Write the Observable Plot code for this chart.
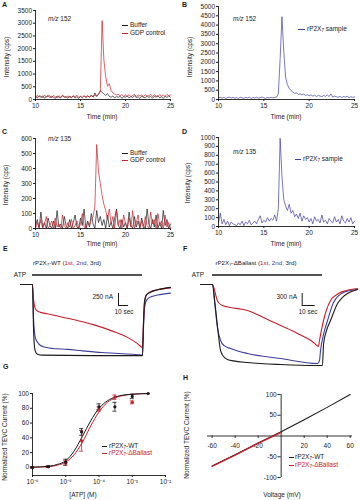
<!DOCTYPE html>
<html><head><meta charset="utf-8">
<script src="https://cdn.jsdelivr.net/npm/d3@7"></script>
<script src="https://cdn.jsdelivr.net/npm/@observablehq/plot@0.6"></script>
<style>
body{margin:0;background:#fff}
#fig{position:relative;width:360px;height:500px;overflow:hidden;background:#fff}
sub{font-size:70%;vertical-align:-0.25em;line-height:0}
</style></head><body><div id="fig"></div>
<script>
// ---------------- DATA ----------------
// chromatograms: sampled every 0.2 min from 10 to 25 min
const times = Array.from({length: 76}, (_, i) => +(10 + 0.2 * i).toFixed(1));
const timeTicks = [10, 15, 20, 25];

const aBuffer = [120,60,150,80,140,50,110,160,70,130, 90,40,140,100,60,150,80,120,50,130,
  90,140,60,110,40,120,80,150,70,130, 100,180,90,260,120,200,350,280,220,160,
  230,120,90,140,60,120,80,130,50,110, 90,140,60,120,80,150,70,110,40,130,
  90,60,140,80,120,50,130,90,150,70, 110,40,130,80,140,90];
const aGDP = [80,170,100,140,60,180,90,130,150,70, 160,110,60,150,90,170,120,70,140,100,
  60,150,110,170,80,130,60,140,100,160, 80,140,110,170,150,220,300,3100,1550,900,
  520,620,350,260,210,180,200,150,190,120, 170,130,190,110,160,200,120,180,140,170,
  110,190,130,160,200,120,180,140,110,190, 130,170,120,200,150,180];
const bSample = [90,120,70,110,60,100,130,80,110,70, 100,60,120,90,70,110,80,130,60,100,
  80,120,70,100,130,90,60,110,80,120, 90,110,130,300,2200,4450,2600,1200,800,600,
  480,400,330,350,280,300,250,290,220,260, 200,250,180,230,160,210,190,150,220,170,
  240,160,300,130,180,150,120,170,110,160, 130,180,100,150,120,140];
const cBuffer = [20,60,0,110,10,40,0,70,20,0, 50,0,120,10,30,0,80,20,0,60,
  0,40,90,10,0,70,20,130,0,50, 10,100,30,0,120,40,80,20,60,0,
  90,10,40,0,70,130,20,0,60,10, 40,0,110,20,0,80,10,50,0,70,
  20,0,130,30,0,60,10,90,0,40, 0,120,20,60,0,30];
const cGDP = [0,40,10,60,0,30,80,0,20,50, 0,70,10,30,0,90,20,0,40,10,
  60,0,20,50,0,30,100,10,0,40, 20,60,80,150,560,380,300,220,160,120,
  60,130,30,80,0,120,20,60,0,90, 30,0,70,10,120,0,40,90,10,50,
  0,80,20,0,110,30,60,0,100,20, 50,0,90,10,40,0];
const dSample = [40,150,30,80,20,60,10,50,30,20, 10,40,20,60,10,50,30,70,20,40,
  60,30,80,120,40,70,50,100,60,90, 70,130,60,200,990,560,300,230,180,250,
  150,180,110,140,90,150,60,120,80,100, 50,90,30,110,60,80,40,130,50,70,
  30,90,60,40,110,50,80,30,120,60, 40,90,50,100,30,60];
const aYTicks = [0,500,1000,1500,2000,2500,3000,3500];
const bYTicks = [0,500,1000,1500,2000,2500,3000,3500,4000,4500,5000];
const cYTicks = [0,100,200,300,400,500,600];
const dYTicks = [0,100,200,300,400,500,600,700,800,900,1000];

// TEVC traces [time (s), current (nA)]
const eRed = [[-12,0],[0,0],[1,-300],[2,-450],[4,-540],[8,-580],[15,-610],[30,-680],[45,-750],[60,-830],[80,-970],[95,-1100],[105,-1230],[110,-1310],[111,-800],[112,-400],[114,-220],[118,-150],[125,-110],[138,-70]];
const eBlue = [[-12,0],[0,0],[1,-700],[2,-1000],[3,-1120],[5,-1200],[8,-1270],[12,-1300],[20,-1330],[35,-1350],[50,-1380],[70,-1415],[90,-1440],[105,-1460],[110,-1470],[111,-900],[112,-500],[114,-330],[118,-260],[125,-220],[138,-180]];
const eBlack = [[-12,0],[0,0],[1,-900],[2,-1300],[3,-1400],[5,-1450],[10,-1470],[60,-1480],[110,-1480],[111,-800],[112,-350],[114,-210],[118,-160],[125,-110],[138,-60]];
const eATP = [0, 110];
const fRed = [[-9,0],[0,0],[2,-200],[3.5,-380],[4.6,-450],[7.7,-525],[13.8,-575],[26.9,-650],[39.2,-825],[52.3,-1025],[65.4,-1225],[77.7,-1450],[81.5,-1550],[82.3,-1400],[85.4,-900],[90.8,-400],[96.9,-225],[103,-150],[111.5,-100]];
const fBlue = [[-9,0],[0,0],[1.5,-400],[3.8,-1075],[6.2,-1400],[9,-1530],[13.8,-1600],[26.9,-1725],[52.3,-1850],[80.8,-1975],[82.3,-1900],[83.1,-1650],[85.4,-1250],[88.5,-900],[93.1,-450],[100.8,-200],[111.5,-125]];
const fBlack = [[-9,0],[0,0],[2,-500],[4,-1100],[6.2,-1650],[8.5,-1800],[12,-1880],[16.2,-1910],[26.9,-1950],[52.3,-2000],[80.8,-2025],[84.6,-2025],[85.4,-1500],[87.7,-1150],[90.8,-900],[96.2,-475],[100,-320],[103.8,-225],[111.5,-125]];
const fATP = [0, 84.6];

// dose response
const gConc = [1e-6,3e-6,1e-5,3e-5,1e-4,3e-4,1e-3,3e-3];
const gWT = [0,1,7,48,82,82,96,100];
const gWTErr = [1,1,4,4.5,4,6,3,0];
const gBal = [0,1,6,36,79,95,88];
const gBalErr = [1,1,3,14,3,3,2];
const gCurveLog = [-6,-5.5,-5.25,-5,-4.75,-4.5,-4.25,-4,-3.75,-3.5,-3.25,-3,-2.5];
const gCurveWT = [0.3,1.5,4,9,22,42,63,80,90,95.5,98,99,100];
const gCurveBal = [0.2,1,3,7,17,34,56,75,88,94.5,97.5,99,100];
const gTicks = [1e-6,1e-5,1e-4,1e-3,1e-2];
const gTickLabels = ["10\u207B\u2076","10\u207B\u2075","10\u207B\u2074","10\u207B\u00B3","10\u207B\u00B2"];
const gYTicks = [0,20,40,60,80,100];

// I-V
const hV = [-60,-40,-20,0,20,40,60];
const hWT = [-72,-45,-17,10,39,69,100];
const hBalV = [-60,-40,-20,0];
const hBal = [-73,-46,-18,9];
const hXTicks = [-60,-40,-20,20,40,60];
const hYTicks = [-100,-50,50,100];

// ---------------- DRAWING ----------------
const FONT = '"Liberation Sans", Arial, Helvetica, sans-serif';
const INK = "#1a1a1a", RED = "#c8202a", BLUE = "#3d3d9e";
const baseStyle = {fontSize: "6.5px", fontFamily: FONT, color: INK, background: "transparent", overflow: "visible"};
const fig = document.getElementById("fig");

function place(node, left, top) {
  node.style.position = "absolute"; node.style.left = left + "px"; node.style.top = top + "px";
  fig.appendChild(node);
}
function txt(html, x, y, o = {}) {
  const d = document.createElement("div");
  d.innerHTML = html;
  const a = o.anchor || "start";
  const tx = a === "start" ? "0" : a === "middle" ? "-50%" : "-100%";
  Object.assign(d.style, {position: "absolute", left: x + "px", top: y + "px", whiteSpace: "nowrap",
    lineHeight: "1", fontSize: (o.size || 6.5) + "px", color: o.color || INK,
    fontWeight: o.bold ? "bold" : "normal", fontFamily: FONT,
    transform: `translate(${tx},-50%)` + (o.rotate ? " rotate(-90deg)" : "")});
  fig.appendChild(d);
}
function sw(x, y, w, color) {
  const d = document.createElement("div");
  Object.assign(d.style, {position: "absolute", left: x + "px", top: (y - 0.5) + "px", width: w + "px", height: "0", borderTop: `1px solid ${color}`});
  fig.appendChild(d);
}

function chrom(p) {
  const svg = Plot.plot({
    width: p.w, height: p.h, marginTop: p.mt, marginBottom: p.mb, marginLeft: p.ml, marginRight: p.mr,
    style: baseStyle,
    x: {domain: [10, 25], ticks: timeTicks, tickSize: 2, tickPadding: 1.5, label: null, tickFormat: d => String(d)},
    y: {domain: [0, p.yMax], ticks: p.yTicks, tickSize: 2, tickPadding: 1.5, label: null, tickFormat: d => String(d)},
    marks: [
      ...p.series.map(s => Plot.line(s.v, {x: (d, i) => times[i], y: d => d, stroke: s.c, strokeWidth: 0.7})),
      Plot.ruleX([10], {stroke: INK, strokeWidth: 0.9}),
      Plot.ruleY([0], {stroke: INK, strokeWidth: 0.9})
    ]
  });
  place(svg, p.x, p.y);
}

chrom({x: 0, y: 0, w: 180, h: 125, mt: 10, mb: 26, ml: 35, mr: 10, yMax: 3500, yTicks: aYTicks,
  series: [{v: aBuffer, c: INK}, {v: aGDP, c: RED}]});
chrom({x: 180, y: 0, w: 180, h: 125, mt: 6, mb: 26, ml: 38, mr: 6, yMax: 5000, yTicks: bYTicks,
  series: [{v: bSample, c: BLUE}]});
chrom({x: 0, y: 125, w: 180, h: 125, mt: 13, mb: 22, ml: 35, mr: 10, yMax: 600, yTicks: cYTicks,
  series: [{v: cBuffer, c: INK}, {v: cGDP, c: RED}]});
chrom({x: 180, y: 125, w: 180, h: 125, mt: 12, mb: 24, ml: 38, mr: 6, yMax: 1000, yTicks: dYTicks,
  series: [{v: dSample, c: BLUE}]});

function trace(p) {
  const L = (data, c) => Plot.line(data, {x: d => d[0], y: d => d[1], stroke: c, strokeWidth: 1.1, curve: "monotone-x"});
  const svg = Plot.plot({
    width: 180, height: 130, margin: 0, style: baseStyle,
    x: {domain: p.xd, axis: null}, y: {domain: p.yd, axis: null},
    marks: [
      Plot.ruleY([0], {x1: p.atp[0], x2: p.atp[1], dy: -9.5, stroke: INK, strokeWidth: 1.3}),
      L(p.blue, BLUE), L(p.red, RED), L(p.black, INK),
      Plot.ruleX([p.bar.t], {y1: p.bar.i, y2: p.bar.i + p.bar.amp, stroke: INK, strokeWidth: 1}),
      Plot.ruleY([p.bar.i], {x1: p.bar.t, x2: p.bar.t + p.bar.sec, stroke: INK, strokeWidth: 1})
    ]
  });
  place(svg, p.x, p.y);
}
trace({x: 0, y: 240, xd: [-32, 148], yd: [-1789, 915], atp: eATP, red: eRed, blue: eBlue, black: eBlack,
  bar: {t: 86, i: -437, amp: 250, sec: 10}});
trace({x: 180, y: 240, xd: [-32 / 1.3, 148 / 1.3], yd: [-2150, 1100], atp: fATP, red: fRed, blue: fBlue, black: fBlack,
  bar: {t: 69, i: -525, amp: 300, sec: 10}});

// G dose-response
{
  const wi = gWT.map((_, i) => i), bi = gBal.map((_, i) => i);
  const svg = Plot.plot({
    width: 180, height: 120, marginTop: 13, marginBottom: 25, marginLeft: 32, marginRight: 15, style: baseStyle,
    x: {type: "log", domain: [1e-6, 1e-2], ticks: gTicks, tickSize: 2, tickPadding: 1.5, label: null,
        tickFormat: d => gTickLabels[gTicks.findIndex(t => Math.abs(Math.log10(t / d)) < 0.01)]},
    y: {domain: [-11, 100], ticks: gYTicks, tickSize: 2, tickPadding: 1.5, label: null, tickFormat: d => String(d)},
    marks: [
      Plot.ruleX([1e-6], {stroke: INK, strokeWidth: 0.9}),
      Plot.ruleY([-11], {stroke: INK, strokeWidth: 0.9}),
      Plot.line(gCurveLog.map((l, i) => [10 ** l, gCurveBal[i]]), {x: d => d[0], y: d => d[1], stroke: RED, strokeWidth: 1, curve: "monotone-x"}),
      Plot.line(gCurveLog.map((l, i) => [10 ** l, gCurveWT[i]]), {x: d => d[0], y: d => d[1], stroke: INK, strokeWidth: 1, curve: "monotone-x"}),
      Plot.ruleX(bi, {x: i => gConc[i], y1: i => gBal[i] - gBalErr[i], y2: i => gBal[i] + gBalErr[i], stroke: RED, strokeWidth: 0.8}),
      Plot.ruleY(bi, {y: i => gBal[i] + gBalErr[i], x1: i => gConc[i] / 1.15, x2: i => gConc[i] * 1.15, stroke: RED, strokeWidth: 0.8}),
      Plot.ruleY(bi, {y: i => gBal[i] - gBalErr[i], x1: i => gConc[i] / 1.15, x2: i => gConc[i] * 1.15, stroke: RED, strokeWidth: 0.8}),
      Plot.ruleX(wi, {x: i => gConc[i], y1: i => gWT[i] - gWTErr[i], y2: i => gWT[i] + gWTErr[i], stroke: INK, strokeWidth: 0.8}),
      Plot.ruleY(wi.filter(i => gWTErr[i] > 0), {y: i => gWT[i] + gWTErr[i], x1: i => gConc[i] / 1.15, x2: i => gConc[i] * 1.15, stroke: INK, strokeWidth: 0.8}),
      Plot.ruleY(wi.filter(i => gWTErr[i] > 0), {y: i => gWT[i] - gWTErr[i], x1: i => gConc[i] / 1.15, x2: i => gConc[i] * 1.15, stroke: INK, strokeWidth: 0.8}),
      Plot.dot(bi, {x: i => gConc[i], y: i => gBal[i], r: 1.6, fill: RED}),
      Plot.dot(wi, {x: i => gConc[i], y: i => gWT[i], r: 1.6, fill: INK})
    ]
  });
  place(svg, 0, 380);
}

// H I-V
{
  const svg = Plot.plot({
    width: 180, height: 120, marginTop: 14, marginBottom: 23, marginLeft: 27, marginRight: 8, style: baseStyle,
    x: {domain: [-64, 62], axis: null}, y: {domain: [-100, 100], axis: null},
    marks: [
      Plot.ruleY([0], {stroke: INK, strokeWidth: 0.9}),
      Plot.ruleX([0], {stroke: INK, strokeWidth: 0.9}),
      Plot.ruleY(hYTicks, {x1: 0, x2: -2.8, stroke: INK, strokeWidth: 0.9}),
      Plot.text(hYTicks, {x: 0, y: d => d, text: d => String(d), dx: -4.5, textAnchor: "end", fill: INK}),
      Plot.ruleX(hXTicks, {y1: 0, y2: -6, stroke: INK, strokeWidth: 0.9}),
      Plot.text(hXTicks, {x: d => d, y: 0, text: d => String(d), dy: 9.5, fill: INK}),
      Plot.line(hV.map((v, i) => [v, hWT[i]]), {x: d => d[0], y: d => d[1], stroke: INK, strokeWidth: 1.1}),
      Plot.line(hBalV.map((v, i) => [v, hBal[i]]), {x: d => d[0], y: d => d[1], stroke: RED, strokeWidth: 1.4})
    ]
  });
  place(svg, 180, 380);
}

// ---------------- TEXT ----------------
const B = {bold: true, size: 7};
txt("A", 2, 4, B); txt("B", 182, 4, B); txt("C", 2, 131, B); txt("D", 182, 131, B);
txt("E", 3, 248, B); txt("F", 183, 248, B); txt("G", 3, 366, B); txt("H", 183, 377, B);

txt("<i>m/z</i> 152", 48, 19);
sw(122, 25, 6, INK); txt("Buffer", 130, 25);
sw(122, 33, 6, RED); txt("GDP control", 130, 33);
txt("Intensity (cps)", 7, 57, {anchor: "middle", rotate: true});
txt("Time (min)", 102, 117, {anchor: "middle"});

txt("<i>m/z</i> 152", 233, 19);
sw(298, 29, 7, BLUE); txt("rP2X<sub>7</sub> sample", 307, 29);
txt("Intensity (cps)", 190, 57, {anchor: "middle", rotate: true});
txt("Time (min)", 286, 117, {anchor: "middle"});

txt("<i>m/z</i> 135", 48, 139);
sw(122, 153, 6, INK); txt("Buffer", 130, 153);
sw(122, 160, 6, RED); txt("GDP control", 130, 160);
txt("Intensity (cps)", 6, 185, {anchor: "middle", rotate: true});
txt("Time (min)", 102, 244, {anchor: "middle"});

txt("<i>m/z</i> 135", 233, 152);
sw(295, 159, 6, BLUE); txt("rP2X<sub>7</sub> sample", 303, 159);
txt("Intensity (cps)", 188, 183, {anchor: "middle", rotate: true});
txt("Time (min)", 286, 244, {anchor: "middle"});

txt(`rP2X<sub>7</sub>-WT (<span style="color:${RED}">1st</span>, <span style="color:${BLUE}">2nd</span>, 3rd)`, 67, 263, {anchor: "middle", size: 6.2});
txt("ATP", 26, 274.5, {anchor: "end"});
txt("250 nA", 113, 297, {anchor: "end"});
txt("10 sec", 124, 312, {anchor: "middle"});

txt(`rP2X<sub>7</sub>-ΔBallast (<span style="color:${RED}">1st</span>, <span style="color:${BLUE}">2nd</span>, 3rd)`, 256, 263, {anchor: "middle", size: 6.2});
txt("ATP", 204, 275, {anchor: "end"});
txt("300 nA", 297, 297, {anchor: "end"});
txt("10 sec", 308, 312, {anchor: "middle"});

txt("Normalized TEVC Current (%)", 5, 437, {anchor: "middle", rotate: true});
txt("[ATP] (M)", 83, 495, {anchor: "middle"});
sw(102, 446, 5, INK); txt("rP2X<sub>7</sub>-WT", 109, 446);
sw(102, 453, 5, RED); txt("rP2X<sub>7</sub>-ΔBallast", 109, 453, {color: RED});

txt("Normalized TEVC Current (%)", 187, 435, {anchor: "middle", rotate: true});
txt("Voltage (mV)", 282, 495, {anchor: "middle"});
sw(289, 457, 5, INK); txt("rP2X<sub>7</sub>-WT", 295, 457);
sw(289, 465, 5, RED); txt("rP2X<sub>7</sub>-ΔBallast", 295, 465, {color: RED});
</script></body></html>
